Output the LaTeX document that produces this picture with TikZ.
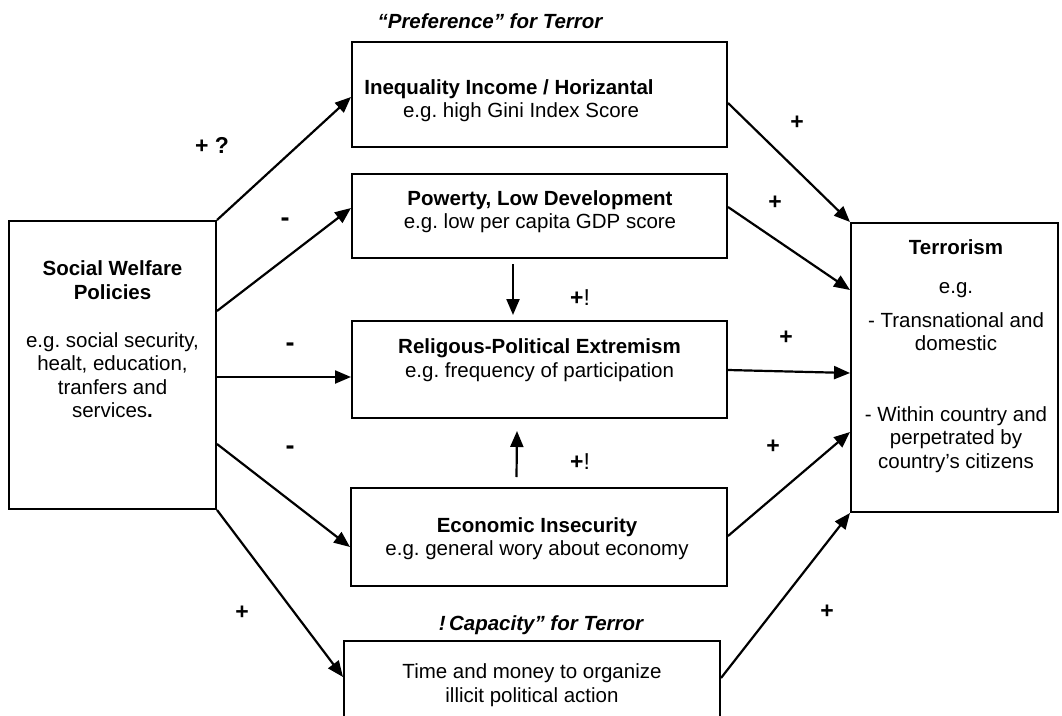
\documentclass[tikz,border=0pt]{standalone}
\usepackage{fontspec}
\setmainfont{Liberation Sans}
\usetikzlibrary{arrows.meta}
\frenchspacing
\tikzset{
  box/.style={draw, line width=2pt, rectangle, inner sep=0pt},
  txt/.style={align=center, inner sep=0pt, font=\fontsize{20.5}{23.5}\selectfont},
  lbl/.style={inner sep=0pt, font=\fontsize{23}{23.5}\selectfont\bfseries},
  mlbl/.style={inner sep=0pt, font=\fontsize{27}{27}\selectfont\bfseries},
  ttl/.style={inner sep=0pt, font=\fontsize{20.5}{23.5}\selectfont\bfseries\itshape},
  arr/.style={line width=2.2pt, -{Triangle[length=16pt,width=13pt]}}
}
\begin{document}
\begin{tikzpicture}[x=1pt,y=-1pt]
\useasboundingbox (0,0) rectangle (1062,715);
\clip (0,0) rectangle (1062,715);
\fill[white] (0,0) rectangle (1062,715);
% boxes
\node[box, minimum width=207pt, minimum height=288pt] (swp) at (112.5,365) {};
\node[box, minimum width=375pt, minimum height=105pt] (ineq) at (539.5,94.5) {};
\node[box, minimum width=375pt, minimum height=84pt] (pov) at (539.5,216) {};
\node[box, minimum width=375pt, minimum height=97pt] (rel) at (539.5,369.5) {};
\node[box, minimum width=376pt, minimum height=98pt] (eco) at (539,537) {};
\node[box, minimum width=376pt, minimum height=119pt] (cap) at (532,700) {};
\node[box, minimum width=207pt, minimum height=289pt] (ter) at (954.5,367.5) {};
% texts
\node[txt] (swpt) at (112.5,280) {\textbf{Social Welfare}\\\textbf{Policies}};
\node[txt] (swpd) at (112.5,375) {e.g. social security,\\healt, education,\\tranfers and\\services\textbf{.}};
\node[txt] (ineqt) at (509,89) {\textbf{Inequality Income / Horizantal}};
\node[txt] (ineqd) at (521,112) {e.g. high Gini Index Score};
\node[txt] (povt) at (540,211.5) {\textbf{Powerty, Low Development}\\e.g. low per capita GDP score};
\node[txt] (relt) at (539.5,360) {\textbf{Religous-Political Extremism}\\e.g. frequency of participation};
\node[txt] (ecot) at (537,538.5) {\textbf{Economic Insecurity}\\e.g. general wory about economy};
\node[txt] (capt) at (532,685) {Time and money to organize\\illicit political action};
\node[txt] (tert) at (956,247) {\textbf{Terrorism}};
\node[txt] (terg) at (956,290) {e.g.};
\node[txt] (terd) at (956,331.5) {- Transnational and\\domestic};
\node[txt] (tere) at (956,439.5) {- Within country and\\perpetrated by\\country’s citizens};
\node[ttl] (pref) at (490,21) {“Preference” for Terror};
\node[ttl] (capa) at (541,625) {!\,Capacity” for Terror};
% arrows from social welfare
\draw[arr] (swp.north east) -- ([yshift=-2.5pt]ineq.west);
\draw[arr] ([yshift=54pt]swp.east) -- ([yshift=8pt]pov.west);
\draw[arr] ([yshift=-12pt]swp.east) -- ([yshift=-7.5pt]rel.west);
\draw[arr] ([yshift=-79pt]swp.east) -- ([yshift=-10pt]eco.west);
\draw[arr] (swp.south east) -- ([yshift=23pt]cap.west);
% arrows to terrorism
\draw[arr] ([yshift=-8.5pt]ineq.east) -- (ter.north west);
\draw[arr] ([yshift=9pt]pov.east) -- ([yshift=77.5pt]ter.west);
\draw[arr] ([yshift=-0.5pt]rel.east) -- ([yshift=-5.5pt]ter.west);
\draw[arr] ([yshift=1pt]eco.east) -- ([yshift=-64.5pt]ter.west);
\draw[arr] ([yshift=22pt]cap.east) -- (ter.south west);
% vertical arrows
\draw[arr] ([xshift=-26.5pt,yshift=-5pt]pov.south) -- ([xshift=-26.5pt,yshift=5pt]rel.north);
\draw[arr] ([xshift=-22.5pt,yshift=10pt]eco.north) -- ([xshift=-22.5pt,yshift=-12pt]rel.south);
% labels
\node[lbl] (l1) at (212,145) {+ ?};
\node[mlbl] (l2) at (285,222) {-};
\node[mlbl] (l3) at (290,347) {-};
\node[mlbl] (l4) at (290,450) {-};
\node[lbl] (l5) at (242,613) {+};
\node[lbl] (l6) at (797,123) {+};
\node[lbl] (l7) at (775,203) {+};
\node[lbl] (l8) at (786,338) {+};
\node[lbl] (l9) at (773,447) {+};
\node[lbl] (l10) at (827,612) {+};
\node[lbl] (l11) at (580,298) {+\mdseries!};
\node[lbl] (l12) at (580,462) {+\mdseries!};
\end{tikzpicture}
\end{document}
